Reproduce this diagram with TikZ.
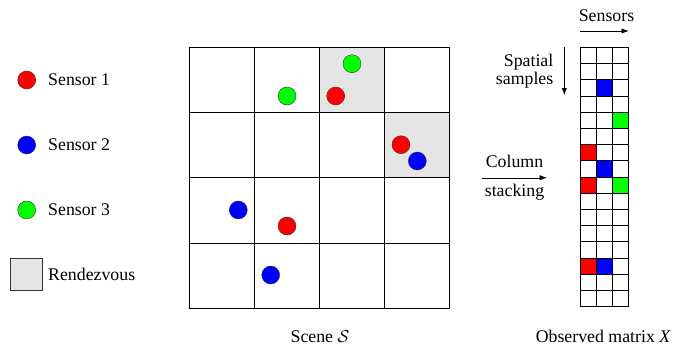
\documentclass[tikz,border=0pt]{standalone}
\usepackage{fontspec}
\setmainfont{Liberation Serif}
\usetikzlibrary{arrows.meta}

\tikzset{
  sensor/.style={circle, draw=black!80, inner sep=0pt, minimum size=18pt},
  legtext/.style={anchor=west, inner sep=0pt},
  captext/.style={anchor=base, inner sep=0pt},
  rdvcell/.style={fill=black!10},
  axisarrow/.style={-{Latex[length=7pt,width=5pt]}},
}

\begin{document}
\begin{tikzpicture}[x=1pt,y=-1pt,font=\fontsize{17.8}{18.5}\selectfont]
\useasboundingbox (0,0) rectangle (697,346);

%%% legend
\node[sensor, fill=red] (leg1) at (26.7,80) {};
\node[legtext] (leg1t) at (48,80) {Sensor 1};
\node[sensor, fill=blue] (leg2) at (26.7,145) {};
\node[legtext] (leg2t) at (48,145) {Sensor 2};
\node[sensor, fill=green] (leg3) at (26.7,210) {};
\node[legtext] (leg3t) at (48,210) {Sensor 3};
\node[rdvcell, draw=black!80, minimum size=32pt, inner sep=0pt] (legR) at (26.3,274.5) {};
\node[legtext] (legRt) at (48,274.5) {Rendezvous};

%%% the scene: 4x4 cells, two rendezvous cells
\fill[rdvcell] (319.4,47.3) rectangle +(65.2,65.2);
\fill[rdvcell] (384.6,112.5) rectangle +(65.2,65.2);
\foreach \i in {0,...,4} {
  \draw[thick] (189+\i*65.2,47.3) -- (189+\i*65.2,308.1);
  \draw[thick] (189,47.3+\i*65.2) -- (449.8,47.3+\i*65.2);
}
\node[sensor, fill=green] (g1) at (352,63.7) {};
\node[sensor, fill=green] (g2) at (287,96) {};
\node[sensor, fill=red] (r1) at (335.7,96) {};
\node[sensor, fill=red] (r2) at (401,144.7) {};
\node[sensor, fill=blue] (b1) at (417.3,161) {};
\node[sensor, fill=blue] (b2) at (238.3,210) {};
\node[sensor, fill=red] (r3) at (287,226) {};
\node[sensor, fill=blue] (b3) at (270.7,275) {};
\node[captext] (scene) at (320,342.5) {Scene $\mathcal{S}$};

%%% observed matrix: 16 samples x 3 sensors
\foreach \c/\r/\col in {2/3/blue, 3/5/green, 1/7/red, 2/8/blue,
                        1/9/red, 3/9/green, 1/14/red, 2/14/blue}
  \fill[\col] (580+\c*16.2-16.2,47.3+\r*16.2-16.2) rectangle +(16.2,16.2);
\foreach \c in {0,...,3}
  \draw[thick] (580+\c*16.2,47.3) -- (580+\c*16.2,306.5);
\foreach \r in {0,...,16}
  \draw[thick] (580,47.3+\r*16.2) -- (628.6,47.3+\r*16.2);
\node[captext] (matX) at (603.3,342.5) {Observed matrix \textit{X}};

%%% axis labels
\node (sens) at (606.5,15.7) {Sensors};
\coordinate (sensA) at (580,31);
\coordinate (sensB) at (628.6,31);
\draw[axisarrow] (sensA) -- (sensB);

\node[align=right, anchor=east, inner sep=0pt] (spat) at (553.5,71) {Spatial\\samples};
\coordinate (spatA) at (564.3,47.3);
\coordinate (spatB) at (564.3,95);
\draw[axisarrow] (spatA) -- (spatB);

\node (colm) at (514.5,161.7) {Column};
\node (stck) at (514.5,192.7) {stacking};
\coordinate (stckA) at (482.3,177.7);
\coordinate (stckB) at (546.7,177.7);
\draw[axisarrow] (stckA) -- (stckB);
\end{tikzpicture}
\end{document}
